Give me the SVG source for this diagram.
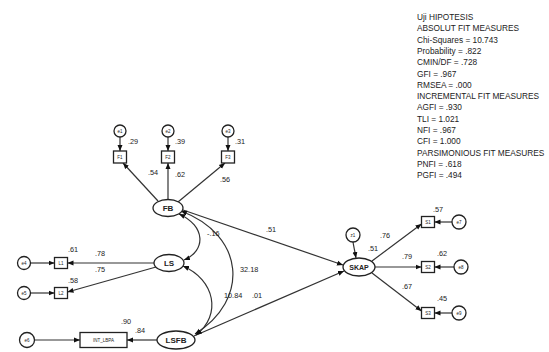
<svg xmlns="http://www.w3.org/2000/svg" width="549" height="352" viewBox="0 0 549 352">
<defs>
<marker id="ah" markerUnits="userSpaceOnUse" markerWidth="6" markerHeight="6" viewBox="0 0 6 6" refX="6" refY="3" orient="auto-start-reverse">
<path d="M0,0.5 L6,3 L0,5.5 Z" fill="#111"/>
</marker>
<style>
.n{fill:#fff;stroke:#222;stroke-width:1.3}
.c{fill:none;stroke:#333;stroke-width:1.2}
.a{marker-end:url(#ah)}
.d{marker-start:url(#ah);marker-end:url(#ah)}
.t{font-family:"Liberation Sans",Arial,sans-serif;fill:#222}
.lb{font-size:7.3px}
.in{font-size:4.5px;text-anchor:middle}
.lt{font-size:8px;font-weight:bold;text-anchor:middle}
.fit{font-size:8.3px}
</style>
</defs>
<rect width="549" height="352" fill="#fff"/>

<g id="connectors">
<line class="c a" x1="120" y1="137" x2="120" y2="151"/>
<line class="c a" x1="168" y1="137" x2="168" y2="151"/>
<line class="c a" x1="228" y1="137" x2="228" y2="151"/>
<line class="c a" x1="158" y1="201" x2="123" y2="163"/>
<line class="c a" x1="168" y1="199.5" x2="168" y2="163"/>
<line class="c a" x1="178" y1="202" x2="225" y2="163"/>
<line class="c a" x1="30.5" y1="263" x2="54.5" y2="263"/>
<line class="c a" x1="30.5" y1="293" x2="54.5" y2="293"/>
<line class="c a" x1="154" y1="263" x2="67.5" y2="263"/>
<line class="c a" x1="156" y1="267" x2="67.5" y2="292"/>
<line class="c a" x1="34.5" y1="340" x2="80" y2="340"/>
<line class="c a" x1="157" y1="340" x2="127" y2="340"/>
<line class="c a" x1="353" y1="242" x2="356" y2="258"/>
<line class="c a" x1="372" y1="261" x2="421.5" y2="224"/>
<line class="c a" x1="375" y1="267" x2="421.5" y2="267"/>
<line class="c a" x1="372" y1="273" x2="421.5" y2="311"/>
<line class="c a" x1="452" y1="222" x2="434.5" y2="222"/>
<line class="c a" x1="454" y1="267" x2="434.5" y2="267"/>
<line class="c a" x1="452" y1="313" x2="434.5" y2="313"/>
<line class="c a" x1="183" y1="210" x2="343" y2="265"/>
<line class="c a" x1="194" y1="336" x2="344" y2="271"/>
<path class="c d" d="M179,214 C206,226 206,251 184,260"/>
<path class="c d" d="M181,211 C245,235 250,300 195,334"/>
<path class="c d" d="M183,266 C215,280 222,315 196,335"/>
</g>

<g id="FB">
<ellipse class="n" cx="168" cy="208" rx="15" ry="8.5"/>
<text class="t lt" x="168" y="211">FB</text>
</g>
<g id="FB1"><rect class="n" x="113.5" y="151" width="13" height="12"/><text class="t in" x="120" y="158.5">F1</text></g>
<g id="FB2"><rect class="n" x="161.5" y="151" width="13" height="12"/><text class="t in" x="168" y="158.5">F2</text></g>
<g id="FB3"><rect class="n" x="221.5" y="151" width="13" height="12"/><text class="t in" x="228" y="158.5">F3</text></g>
<g id="e1"><circle class="n" cx="120" cy="131" r="6"/><text class="t in" x="120" y="132.5">e1</text></g>
<g id="e2"><circle class="n" cx="168" cy="131" r="6"/><text class="t in" x="168" y="132.5">e2</text></g>
<g id="e3"><circle class="n" cx="228" cy="131" r="6"/><text class="t in" x="228" y="132.5">e3</text></g>

<g id="LS">
<ellipse class="n" cx="169" cy="263" rx="15" ry="8.5"/>
<text class="t lt" x="169" y="266">LS</text>
</g>
<g id="LS1"><rect class="n" x="54.5" y="257.5" width="13" height="11"/><text class="t in" x="61" y="264.5">L1</text></g>
<g id="LS2"><rect class="n" x="54.5" y="287.5" width="13" height="11"/><text class="t in" x="61" y="294.5">L2</text></g>
<g id="e4"><circle class="n" cx="24" cy="263" r="6.5"/><text class="t in" x="24" y="264.5">e4</text></g>
<g id="e5"><circle class="n" cx="24" cy="293" r="6.5"/><text class="t in" x="24" y="294.5">e5</text></g>

<g id="LSFB">
<ellipse class="n" cx="176" cy="340" rx="19" ry="9"/>
<text class="t lt" x="176" y="343">LSFB</text>
</g>
<g id="INT_LBPA"><rect class="n" x="80" y="332.5" width="47" height="15"/><text class="t in" x="103.5" y="341.5">INT_LBPA</text></g>
<g id="e6"><circle class="n" cx="27" cy="340" r="7.5"/><text class="t in" x="27" y="341.5">e6</text></g>

<g id="SKAP">
<ellipse class="n" cx="359" cy="267" rx="16" ry="9"/>
<text class="t lt" x="359" y="270" style="font-size:7px">SKAP</text>
</g>
<g id="z1"><circle class="n" cx="353" cy="235" r="7"/><text class="t in" x="353" y="236.5">z1</text></g>
<g id="S1"><rect class="n" x="421.5" y="216.5" width="13" height="11"/><text class="t in" x="428" y="223.5">S1</text></g>
<g id="S2"><rect class="n" x="421.5" y="261.5" width="13" height="11"/><text class="t in" x="428" y="268.5">S2</text></g>
<g id="S3"><rect class="n" x="421.5" y="307.5" width="13" height="11"/><text class="t in" x="428" y="314.5">S3</text></g>
<g id="e7"><circle class="n" cx="459" cy="222" r="7"/><text class="t in" x="459" y="223.5">e7</text></g>
<g id="e8"><circle class="n" cx="461" cy="267" r="7"/><text class="t in" x="461" y="268.5">e8</text></g>
<g id="e9"><circle class="n" cx="459" cy="313" r="7"/><text class="t in" x="459" y="314.5">e9</text></g>

<g id="labels" class="t lb">
<text x="128" y="144">.29</text>
<text x="175" y="144">.39</text>
<text x="235" y="144">.31</text>
<text x="148" y="175">.54</text>
<text x="175" y="177">.62</text>
<text x="220" y="182">.56</text>
<text x="68" y="252">.61</text>
<text x="95" y="256">.78</text>
<text x="95" y="272">.75</text>
<text x="68" y="283">.58</text>
<text x="121" y="324">.90</text>
<text x="135" y="333">.84</text>
<text x="207" y="236">-.16</text>
<text x="240" y="272">32.18</text>
<text x="224" y="298">10.84</text>
<text x="252" y="298">.01</text>
<text x="266" y="232">.51</text>
<text x="368" y="251">.51</text>
<text x="380" y="238">.76</text>
<text x="402" y="259">.79</text>
<text x="402" y="289">.67</text>
<text x="433" y="212">.57</text>
<text x="437" y="256">.62</text>
<text x="437" y="301">.45</text>
</g>

<g id="fit" class="t fit">
<text x="417" y="20">Uji HIPOTESIS</text>
<text x="417" y="31.3">ABSOLUT FIT MEASURES</text>
<text x="417" y="42.6">Chi-Squares = 10.743</text>
<text x="417" y="53.9">Probability = .822</text>
<text x="417" y="65.2">CMIN/DF = .728</text>
<text x="417" y="76.5">GFI = .967</text>
<text x="417" y="87.8">RMSEA = .000</text>
<text x="417" y="99.1">INCREMENTAL FIT MEASURES</text>
<text x="417" y="110.4">AGFI = .930</text>
<text x="417" y="121.7">TLI = 1.021</text>
<text x="417" y="133">NFI = .967</text>
<text x="417" y="144.3">CFI = 1.000</text>
<text x="417" y="155.6">PARSIMONIOUS FIT MEASURES</text>
<text x="417" y="166.9">PNFI = .618</text>
<text x="417" y="178.2">PGFI = .494</text>
</g>
</svg>
